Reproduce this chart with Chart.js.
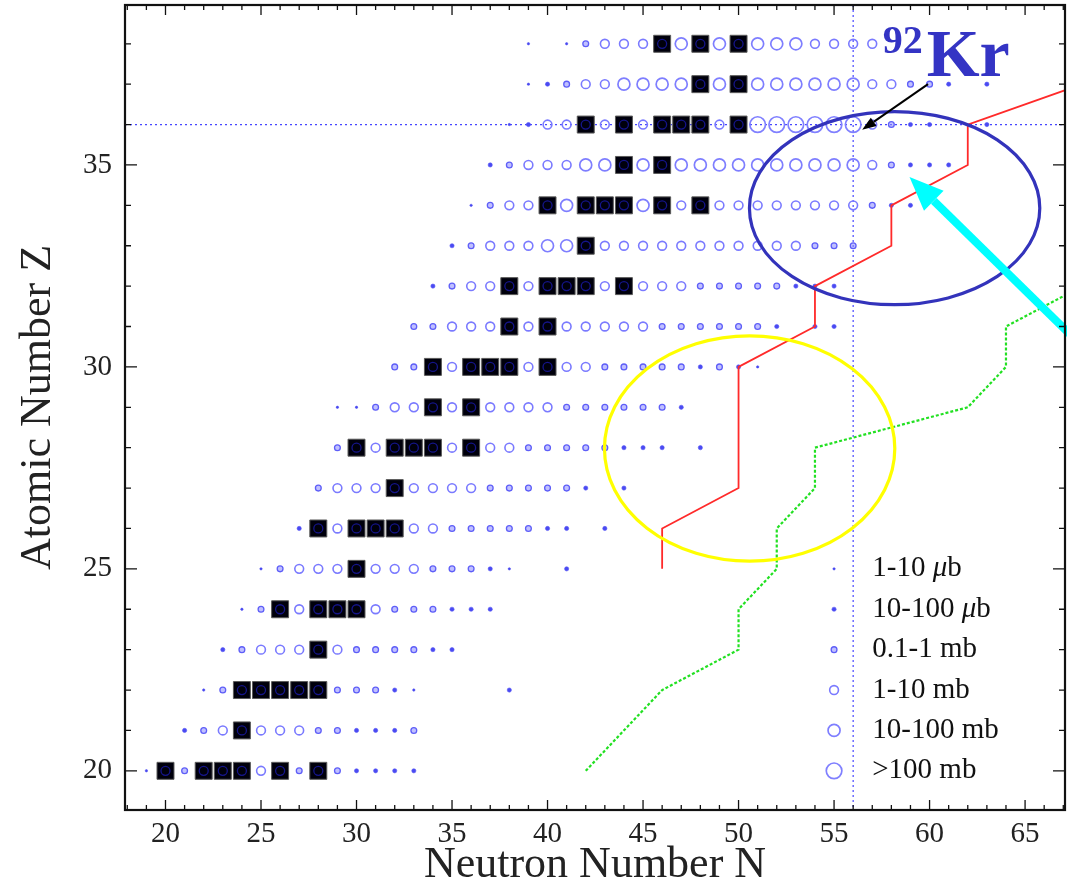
<!DOCTYPE html>
<html><head><meta charset="utf-8">
<style>html,body{margin:0;padding:0;background:#fff;overflow:hidden}canvas{display:block}</style>
<script src="https://cdn.jsdelivr.net/npm/chart.js@4.4.0/dist/chart.umd.min.js"></script>
</head><body>
<canvas id="c" width="1067" height="889"></canvas>
<script>
// ---- data ----
// Atomic number of each row, first neutron number of each row, and a code per consecutive N:
// '0' = no point, '1'..'6' = cross-section class (1-10 µb ... >100 mb), 'S' = stable isotope
const zRows  = [20,21,22,23,24,25,26,27,28,29,30,31,32,33,34,35,36,37,38];
const nStart = [19,21,22,23,24,25,27,28,29,29,32,33,34,35,36,37,38,39,39];
const rowCodes = [
  "1S3SSS4S3S32222",
  "234S444332223",
  "13SSSSS3332100002",
  "23444S4333322",
  "13S4SSS4333222",
  "13444S44433321002",
  "2S4SSS44333332202",
  "3444S444433333202",
  "3S4SSS4S443333322202",
  "11344S4S44443333332",
  "33S4SSS4S44333332321",
  "33444S4S444443333332022",
  "2344S4SSS4S44433333222",
  "2344455S44444444444333",
  "1344S5SSS5S4S44444444322",
  "2344455S5S555555555543222",
  "1244S4S4SSS4S6666664322002",
  "123445555S5S5555554433202",
  "1013444S5S5S5554444"
];
const legendLabels = [["1-10 ","μ","b"],["10-100 ","μ","b"],["0.1-1 mb"],["1-10 mb"],["10-100 mb"],[">100 mb"]];
const legendClasses = [1,2,3,4,5,6];
// solid red path and dashed green path (N, Z)
const redN   = [46,46,50,50,54,54,58,58,62,62,68];
const redZ   = [25,26,27,30,31,32,33,34,35,36,37];
const greenN = [42,46,50,50,52,52,54,54,62,64,64,68];
const greenZ = [20,22,23,24,25,26,27,28,29,30,31,32];
const xTickLabels = [20,25,30,35,40,45,50,55,60,65];
const yTickLabels = [20,25,30,35];
const refN = 56, refZ = 36; // 92Kr guide lines

// ---- build datasets ----
const classPts = {1:[],2:[],3:[],4:[],5:[],6:[]};
const stablePts = [];
zRows.forEach((z,r)=>{
  const code = rowCodes[r];
  for (let i=0;i<code.length;i++){
    const c = code[i], n = nStart[r]+i;
    if (c==='S') stablePts.push({x:n,y:z});
    else if (c!=='0') classPts[+c].push({x:n,y:z});
  }
});
const CLS = {
  1:{r:1.2, bg:'#4848f0', bc:'#4848f0', bw:0.5},
  2:{r:2.1, bg:'#4a4af2', bc:'#5555f5', bw:0.6},
  3:{r:2.9, bg:'rgba(140,140,255,0.55)', bc:'#5e5ef8', bw:1.3},
  4:{r:4.4, bg:'rgba(0,0,0,0)', bc:'#7a7aff', bw:1.6},
  5:{r:6.0, bg:'rgba(0,0,0,0)', bc:'#7e7eff', bw:1.7},
  6:{r:7.8, bg:'rgba(0,0,0,0)', bc:'#8080ff', bw:1.7}
};
const datasets = [];
[1,2,3,4,5,6].forEach(k=>{
  datasets.push({data:classPts[k], pointStyle:'circle', pointRadius:CLS[k].r,
    backgroundColor:CLS[k].bg, borderColor:CLS[k].bc, pointBorderWidth:CLS[k].bw, order:3});
});
datasets.push({data:stablePts, pointStyle:'rect', pointRadius:12, backgroundColor:'#00000c',
  borderColor:'#5a5a5a', pointBorderWidth:1, order:2});
datasets.push({data:stablePts, pointStyle:'circle', pointRadius:4.5, backgroundColor:'rgba(0,0,0,0)',
  borderColor:'#14148a', pointBorderWidth:1.3, order:1});
datasets.push({data:redN.map((n,i)=>({x:n,y:redZ[i]})), showLine:true, pointRadius:0,
  borderColor:'#ff2a2a', borderWidth:1.8, tension:0, order:0});
datasets.push({data:greenN.map((n,i)=>({x:n,y:greenZ[i]})), showLine:true, pointRadius:0,
  borderColor:'#22e022', borderWidth:2.2, borderDash:[3,2], tension:0, order:0});

// ---- annotations (in data units) ----
const ANN = {
  blueEll:{n:58.17, z:33.93, rn:7.6, rz:2.39},
  yellowEll:{n:50.58, z:27.98, rn:7.6, rz:2.79},
  blackArrow:{n1:59.92, z1:37.0, n2:56.47, z2:35.87},
  cyanArrow:{n1:67.8, z1:30.6, n2:58.95, z2:34.7},
  t92:{n:57.55, z:37.77}, tKr:{n:59.85, z:37.2},
  legN:55, legTextN:57.0, legZ:[25,24,23,22,21,20]
};
const SERIF = '"Liberation Serif", "DejaVu Serif", serif';

function arrow(ctx,x1,y1,x2,y2,w,hl,hw,col){
  const a=Math.atan2(y2-y1,x2-x1);
  const bx=x2-hl*Math.cos(a), by=y2-hl*Math.sin(a);
  ctx.save();
  ctx.strokeStyle=col; ctx.fillStyle=col; ctx.lineWidth=w; ctx.lineCap='butt';
  ctx.beginPath(); ctx.moveTo(x1,y1); ctx.lineTo(bx,by); ctx.stroke();
  ctx.beginPath(); ctx.moveTo(x2,y2);
  ctx.lineTo(bx+hw/2*Math.sin(a), by-hw/2*Math.cos(a));
  ctx.lineTo(bx-hw/2*Math.sin(a), by+hw/2*Math.cos(a));
  ctx.closePath(); ctx.fill();
  ctx.restore();
}

const overlay = {
  id:'overlay',
  beforeDatasetsDraw(chart){
    const {ctx, chartArea:a, scales:{x,y}} = chart;
    ctx.save();
    ctx.strokeStyle='#4646ff'; ctx.lineWidth=1.2; ctx.setLineDash([2,3]);
    const yk=y.getPixelForValue(refZ), xk=x.getPixelForValue(refN);
    ctx.beginPath(); ctx.moveTo(a.left,yk); ctx.lineTo(a.right,yk);
    ctx.moveTo(xk,a.top); ctx.lineTo(xk,a.bottom); ctx.stroke();
    ctx.restore();
  },
  afterDatasetsDraw(chart){
    const {ctx, chartArea:a, scales:{x,y}} = chart;
    const X=v=>x.getPixelForValue(v), Y=v=>y.getPixelForValue(v);
    const sx = X(1)-X(0), sy = Y(0)-Y(1);
    ctx.save();
    ctx.beginPath(); ctx.rect(a.left,a.top,a.right-a.left+3,a.bottom-a.top); ctx.clip();
    const ell=(e,col)=>{ctx.beginPath(); ctx.ellipse(X(e.n),Y(e.z),e.rn*sx,e.rz*sy,0,0,Math.PI*2);
      ctx.strokeStyle=col; ctx.lineWidth=3.2; ctx.stroke();};
    ell(ANN.yellowEll,'#ffff00');
    ell(ANN.blueEll,'#3333bb');
    const ca=ANN.cyanArrow;
    arrow(ctx,X(ca.n1),Y(ca.z1),X(ca.n2),Y(ca.z2),8,34,28,'#00ffff');
    const ba=ANN.blackArrow;
    arrow(ctx,X(ba.n1),Y(ba.z1),X(ba.n2),Y(ba.z2),2,14,10,'#000000');
    ctx.restore();
    ctx.save();
    ctx.fillStyle='#3434c4'; ctx.textBaseline='alphabetic'; ctx.textAlign='left';
    ctx.font='bold 40px '+SERIF; ctx.fillText('92',X(ANN.t92.n),Y(ANN.t92.z));
    ctx.font='bold 68px '+SERIF; ctx.fillText('Kr',X(ANN.tKr.n),Y(ANN.tKr.z));
    ctx.restore();
    ctx.save();
    ctx.textBaseline='middle'; ctx.fillStyle='#111';
    legendClasses.forEach((k,i)=>{
      const px=X(ANN.legN), py=Y(ANN.legZ[i]), c=CLS[k];
      ctx.beginPath(); ctx.arc(px,py,c.r,0,Math.PI*2);
      ctx.fillStyle=c.bg; ctx.fill(); ctx.strokeStyle=c.bc; ctx.lineWidth=c.bw; ctx.stroke();
      let tx=X(ANN.legTextN);
      ctx.fillStyle='#111';
      legendLabels[i].forEach(seg=>{
        ctx.font=(seg==='μ'?'italic ':'')+'29px '+SERIF;
        ctx.fillText(seg,tx,py); tx+=ctx.measureText(seg).width;
      });
    });
    ctx.restore();
  },
  afterDraw(chart){
    const {ctx, chartArea:a, scales:{x,y}} = chart;
    ctx.save();
    ctx.strokeStyle='#111'; ctx.lineWidth=1.3;
    ctx.beginPath();
    for (let n=Math.ceil(x.min); n<=x.max; n++){
      const px=x.getPixelForValue(n), L=(n%5===0)?10:5;
      ctx.moveTo(px,a.bottom); ctx.lineTo(px,a.bottom-L);
      ctx.moveTo(px,a.top); ctx.lineTo(px,a.top+L);
    }
    for (let z=Math.ceil(y.min); z<=y.max; z++){
      const py=y.getPixelForValue(z), L=(z%5===0)?12:6;
      ctx.moveTo(a.left,py); ctx.lineTo(a.left+L,py);
      ctx.moveTo(a.right,py); ctx.lineTo(a.right-L,py);
    }
    ctx.stroke();
    ctx.lineWidth=2.2; ctx.strokeStyle='#111';
    ctx.strokeRect(a.left,a.top,a.right-a.left,a.bottom-a.top);
    ctx.restore();
  }
};
const zeroPad = s=>{s.paddingLeft=0; s.paddingRight=0; s.paddingTop=0; s.paddingBottom=0;};

new Chart(document.getElementById('c'), {
  type:'scatter',
  data:{datasets},
  options:{
    responsive:false, devicePixelRatio:1, animation:false, events:[],
    layout:{autoPadding:false, padding:{left:0,right:2,top:5,bottom:0}},
    plugins:{legend:{display:false}, tooltip:{enabled:false}},
    scales:{
      x:{type:'linear', min:17.88, max:67.09,
        grid:{display:false, drawTicks:false}, border:{display:false},
        afterBuildTicks:s=>{s.ticks=xTickLabels.map(v=>({value:v}));},
        afterFit:s=>{s.height=79; zeroPad(s);},
        ticks:{autoSkip:false, maxRotation:0, padding:7, color:'#222', font:{family:SERIF,size:29}},
        title:{display:true, text:'Neutron Number N', color:'#222', padding:{top:0,bottom:2},
          font:{family:SERIF,size:44,lineHeight:1}}},
      y:{type:'linear', min:19.03, max:38.96,
        grid:{display:false, drawTicks:false}, border:{display:false},
        afterBuildTicks:s=>{s.ticks=yTickLabels.map(v=>({value:v}));},
        afterFit:s=>{s.width=125; zeroPad(s);},
        ticks:{autoSkip:false, padding:13, color:'#222', font:{family:SERIF,size:29}},
        title:{display:true, text:'Atomic Number Z', color:'#222', padding:{top:16,bottom:0},
          font:{family:SERIF,size:44,lineHeight:1}}}
    }
  },
  plugins:[overlay]
});
</script>
</body></html>
